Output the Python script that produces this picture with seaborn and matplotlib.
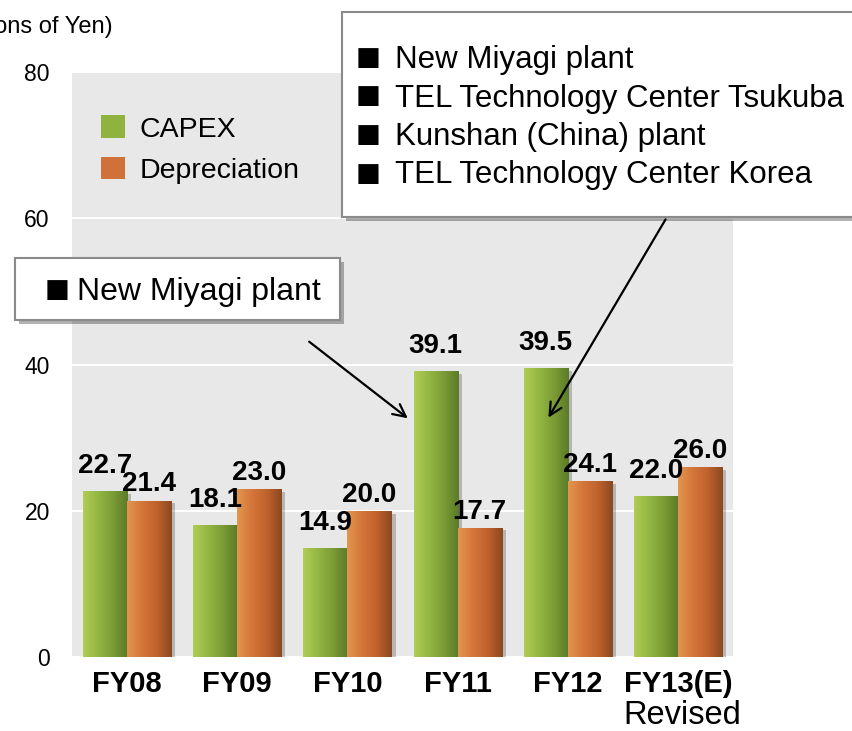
import numpy as np
import pandas as pd
import matplotlib
matplotlib.use("Agg")
import matplotlib.pyplot as plt
import seaborn as sns
from matplotlib.colors import LinearSegmentedColormap
from matplotlib.patches import Rectangle, Patch
import matplotlib.patheffects as pe

# ---- data ----
years = ["FY08", "FY09", "FY10", "FY11", "FY12", "FY13(E)"]
capex = [22.7, 18.1, 14.9, 39.1, 39.5, 22.0]
depreciation = [21.4, 23.0, 20.0, 17.7, 24.1, 26.0]
series_names = ["CAPEX", "Depreciation"]
yticks = [0, 20, 40, 60, 80]
box1_lines = ["New Miyagi plant", "TEL Technology Center Tsukuba",
              "Kunshan (China) plant", "TEL Technology Center Korea"]
box2_lines = ["New Miyagi plant"]

df = pd.DataFrame({
    "year": years * 2,
    "value": capex + depreciation,
    "series": [series_names[0]] * len(years) + [series_names[1]] * len(years),
})

sns.set_style("white")
plt.rcParams["font.family"] = ["Liberation Sans", "DejaVu Sans"]
for k in ["text.color", "xtick.color", "ytick.color", "axes.labelcolor"]:
    plt.rcParams[k] = "black"

W, H = 852, 731
fig = plt.figure(figsize=(W / 100, H / 100), dpi=100)
ax = fig.add_axes([72 / W, 1 - 657 / H, 661 / W, 585 / H])
ax.set_facecolor("#e8e8e8")

mid_colors = {"CAPEX": "#8fb33e", "Depreciation": "#d0703a"}
sns.barplot(data=df, x="year", y="value", hue="series", palette=mid_colors,
            width=0.8, ax=ax, legend=False, saturation=1, edgecolor="none")

cmaps = [
    LinearSegmentedColormap.from_list("g", ["#b0cd55", "#94b642", "#7b9c35", "#5b7a28"]),
    LinearSegmentedColormap.from_list("o", ["#e2964f", "#d4753a", "#c0622c", "#8a4822"]),
]
grad = np.linspace(0, 1, 128).reshape(1, -1)
for cont, cmap in zip(ax.containers, cmaps):
    for patch in cont.patches:
        x0 = patch.get_x(); w = patch.get_width(); h = patch.get_height()
        patch.set_path_effects([pe.SimplePatchShadow(offset=(3, -2), shadow_rgbFace="k", alpha=0.22),
                                pe.Normal()])
        im = ax.imshow(grad, cmap=cmap, extent=[x0, x0 + w, 0, h], aspect="auto",
                       origin="lower", interpolation="bicubic", zorder=patch.get_zorder() + 0.1)
        im.set_clip_path(patch)

# value labels
offsets = [13, 6.5]
for cont, off in zip(ax.containers, offsets):
    for patch in cont.patches:
        cx = patch.get_x() + patch.get_width() / 2
        h = patch.get_height()
        ax.annotate(f"{h:.1f}", xy=(cx, h), xytext=(0, off), textcoords="offset points",
                    ha="center", va="baseline", fontsize=20, fontweight="bold", color="black",
                    zorder=10)

ax.set_xlim(-0.5, len(years) - 0.5)
ax.set_ylim(0, 80)
ax.set_yticks(yticks)
ax.set_yticklabels([str(t) for t in yticks], fontsize=16.5)
ax.set_xticks(range(len(years)))
ax.set_xticklabels(years, fontsize=21, fontweight="bold")
ax.tick_params(axis="y", length=0, pad=16)
ax.tick_params(axis="x", length=0, pad=9)
ax.set_xlabel("")
ax.set_ylabel("")
for s in ax.spines.values():
    s.set_visible(False)
ax.grid(axis="y", color="white", lw=1.5)
ax.set_axisbelow(True)

# legend
handles = [Patch(facecolor=mid_colors[n], edgecolor="none") for n in series_names]
ax.legend(handles, series_names, loc="upper left", bbox_to_anchor=(0.044, 0.926),
          frameon=False, fontsize=20.5, handlelength=0.85, handleheight=0.85,
          handletextpad=0.5, labelspacing=0.5, borderpad=0, borderaxespad=0)

# Revised note
ax.annotate("Revised", xy=(len(years) - 1, 0), xycoords=("data", "axes fraction"),
            xytext=(4, -67), textcoords="offset pixels", ha="center", va="baseline",
            fontsize=23.5, annotation_clip=False)

# y unit label (cut off at left in the reference)
fig.text(113 / W, 1 - 33 / H, "(Billions of Yen)", ha="right", va="baseline", fontsize=17)

# callout boxes
shadow = [pe.SimplePatchShadow(offset=(3, -3), shadow_rgbFace="k", alpha=0.3), pe.Normal()]
box1 = Rectangle((342, H - 217), 600, 205, transform=None, facecolor="white",
                 edgecolor="#8a8a8a", lw=1.5, zorder=20)
box1.set_path_effects(shadow)
fig.add_artist(box1)
box2 = Rectangle((15, H - 320), 325, 62, transform=None, facecolor="white",
                 edgecolor="#8a8a8a", lw=1.5, zorder=20)
box2.set_path_effects(shadow)
fig.add_artist(box2)

for i, line in enumerate(box1_lines):
    yb = 68 + i * 38.5
    fig.text(356 / W, 1 - (yb - 3) / H, "\u25a0", ha="left", va="baseline", fontsize=19,
             family=["DejaVu Sans"], zorder=21)
    fig.text(395 / W, 1 - yb / H, line, ha="left", va="baseline", fontsize=22.5, zorder=21)
for line in box2_lines:
    yb = 300
    fig.text(45 / W, 1 - (yb - 3) / H, "\u25a0", ha="left", va="baseline", fontsize=19,
             family=["DejaVu Sans"], zorder=21)
    fig.text(77 / W, 1 - yb / H, line, ha="left", va="baseline", fontsize=23, zorder=21)

# arrows
arrow_kw = dict(arrowstyle="->,head_length=0.9,head_width=0.45", color="black", lw=1.6)
ax.annotate("", xy=(410, H - 420), xycoords="figure pixels",
            xytext=(307, H - 340), textcoords="figure pixels",
            arrowprops=arrow_kw, zorder=15, annotation_clip=False)
ax.annotate("", xy=(547, H - 420), xycoords="figure pixels",
            xytext=(667, H - 217), textcoords="figure pixels",
            arrowprops=arrow_kw, zorder=15, annotation_clip=False)

fig.savefig("out.png", dpi=100)
